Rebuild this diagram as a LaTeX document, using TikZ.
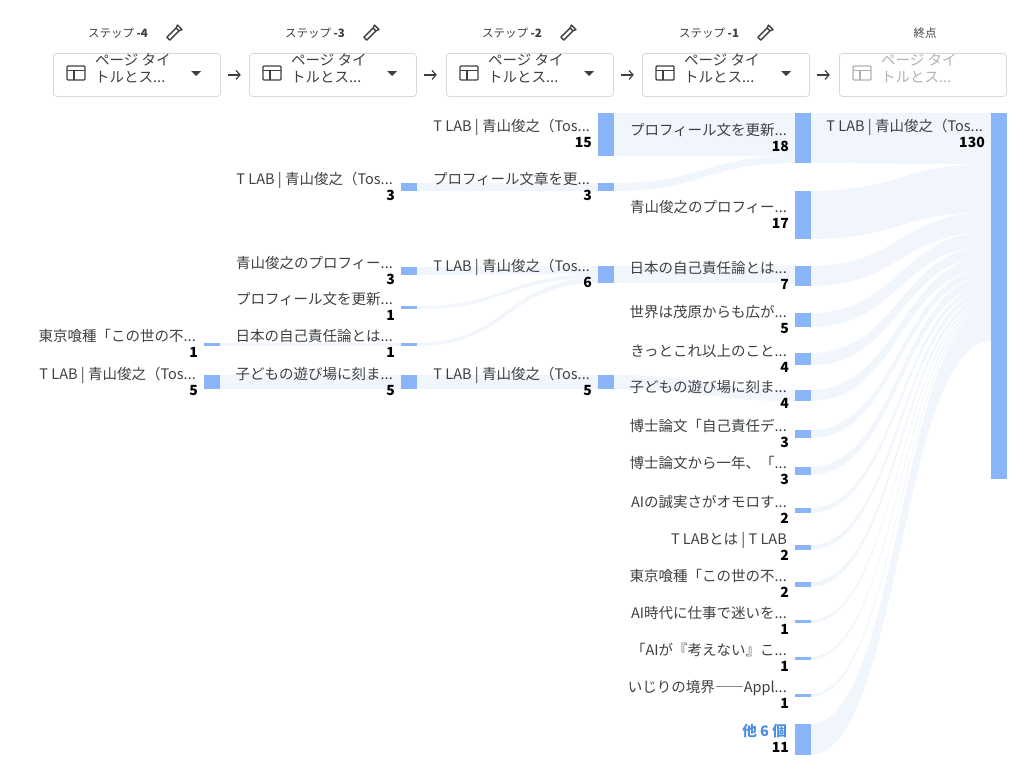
\documentclass[tikz,border=0pt]{standalone}
\usepackage{fontspec}
\setmainfont{Noto Sans CJK JP}
\usetikzlibrary{arrows.meta}
\definecolor{barc}{HTML}{8AB4F8}
\definecolor{flowc}{HTML}{DCE6F7}
\definecolor{txt}{HTML}{3C4043}
\definecolor{lnk}{HTML}{4A8FE0}
\tikzset{
  lab/.style={anchor=base east,font=\fontsize{14.5}{15}\selectfont,text=txt,inner sep=0pt},
  num/.style={anchor=base east,font=\fontsize{14}{15}\selectfont\bfseries,text=black,inner sep=0pt},
  flw/.style={fill=flowc,fill opacity=0.4},
  ddbox/.style={draw=black!15,rounded corners=3pt,line width=0.8pt},
  steplab/.style={font=\fontsize{11.5}{12}\selectfont,text=txt},
  arr/.style={-{Straight Barb[length=4pt,width=9pt]},line width=1.2pt,draw=txt}
}
% name, xleft, ytop, ybot, label, number
\newcommand\sbar[6]{%
  \fill[barc] (#2,#3) rectangle ({#2+16},#4);
  \coordinate (#1) at ({#2},{(#3+#4)/2});
  \node[lab] (#1l) at ({#2-8},{(#3+#4)/2-3}) {#5};
  \node[num] (#1n) at ({#2-6},{(#3+#4)/2+13}) {#6};}
% x1 a1 a2 x2 b1 b2
\newcommand\flow[6]{%
  \fill[flw] (#1,#2) .. controls ({(#1+#4)/2},#2) and ({(#1+#4)/2},#5) .. (#4,#5)
   -- (#4,#6) .. controls ({(#1+#4)/2},#6) and ({(#1+#4)/2},#3) .. (#1,#3) -- cycle;}
\newcommand\ddown[3]{% name, xleft, colour
  \node[ddbox,minimum width=167pt,minimum height=43pt,anchor=north west] (#1) at (#2,53) {};
  \draw[line width=1.4pt,draw=#3,rounded corners=1pt] ({#2+14},66) rectangle ({#2+32},80);
  \draw[line width=1.4pt,draw=#3] ({#2+14},70.5) -- ({#2+32},70.5) ({#2+21},70.5) -- ({#2+21},80);
  \node[anchor=north west,align=left,font=\fontsize{14.5}{17}\selectfont,text=#3,inner sep=0pt] (#1t) at ({#2+42},53) {ページ タイ\\トルとス...};}
\begin{document}
\begin{tikzpicture}[x=1pt,y=-1pt]
\useasboundingbox (0,0) rectangle (1024,776);
% header
\foreach \n/\x/\t in {a/118/-4,b/315/-3,c/512/-2,d/709/-1}{
  \node[steplab] (s\n) at (\x,33) {ステップ \textbf{\t}};
  \begin{scope}[shift={(\x+56,33)},rotate=45]
    \draw[line width=1.4pt,txt,line join=round] (-8,-2) -- (5,-2) -- (8,-3.2) -- (8,3.2) -- (5,2) -- (-8,2) -- cycle;
    \draw[line width=1.4pt,txt] (5,-2) -- (5,2);
  \end{scope}
}
\node[steplab] (se) at (925,33) {終点};
\ddown{d1}{53}{txt}
\ddown{d2}{249}{txt}
\ddown{d3}{446}{txt}
\ddown{d4}{642}{txt}
\ddown{d5}{839}{black!30}
\foreach \a in {d1,d2,d3,d4}{
  \draw[arr] (\a.east)++(7,0) -- ++(13,0);
}
\foreach \x in {196,392,589,786}{
  \fill[txt] (\x-5,71) -- (\x+5,71) -- (\x,76) -- cycle;
}
% flows col-4 -> col-3
\flow{220}{375}{389}{401}{375}{389}
\flow{220}{343}{346}{401}{343}{346}
% col-3 -> col-2
\flow{417}{183}{191}{598}{183}{191}
\flow{417}{267}{275}{598}{266}{274}
\flow{417}{306}{309}{598}{274}{278}
\flow{417}{343}{346}{598}{278}{283}
\flow{417}{375}{389}{598}{375}{389}
% col-2 -> col-1
\flow{614}{113}{156}{795}{113}{156}
\flow{614}{183}{191}{795}{156}{163}
\flow{614}{266}{283}{795}{266}{283}
\flow{614}{375}{389}{795}{390}{401}
% col-1 -> end
\foreach \a/\b/\c/\d in {113/163/113/164,191/239/164/212,266/286/212/232,313/327/232/246,353/365/246/257,390/401/257/268,430/438/268/276,467/475/276/285,508/513/285/290,545/550/290/296,582/587/296/301,620/623/301/304,657/660/304/307,694/697/307/310,724/755/310/341}{
  \flow{810}{\a}{\b}{991}{\c}{\d}
}
% bars
\sbar{a1}{204}{343}{346}{東京喰種「この世の不...}{1}
\sbar{a2}{204}{375}{389}{T LAB | 青山俊之（Tos...}{5}
\sbar{b1}{401}{183}{191}{T LAB | 青山俊之（Tos...}{3}
\sbar{b2}{401}{267}{275}{青山俊之のプロフィー...}{3}
\sbar{b3}{401}{306}{309}{プロフィール文を更新...}{1}
\sbar{b4}{401}{343}{346}{日本の自己責任論とは...}{1}
\sbar{b5}{401}{375}{389}{子どもの遊び場に刻ま...}{5}
\sbar{c1}{598}{113}{156}{T LAB | 青山俊之（Tos...}{15}
\sbar{c2}{598}{183}{191}{プロフィール文章を更...}{3}
\sbar{c3}{598}{266}{283}{T LAB | 青山俊之（Tos...}{6}
\sbar{c4}{598}{375}{389}{T LAB | 青山俊之（Tos...}{5}
\sbar{d1b}{795}{113}{163}{プロフィール文を更新...}{18}
\sbar{d2b}{795}{191}{239}{青山俊之のプロフィー...}{17}
\sbar{d3b}{795}{266}{286}{日本の自己責任論とは...}{7}
\sbar{d4b}{795}{313}{327}{世界は茂原からも広が...}{5}
\sbar{d5b}{795}{353}{365}{きっとこれ以上のこと...}{4}
\sbar{d6b}{795}{390}{401}{子どもの遊び場に刻ま...}{4}
\sbar{d7b}{795}{430}{438}{博士論文「自己責任デ...}{3}
\sbar{d8b}{795}{467}{475}{博士論文から一年、「...}{3}
\sbar{d9b}{795}{508}{513}{AIの誠実さがオモロす...}{2}
\sbar{d10b}{795}{545}{550}{T LABとは | T LAB}{2}
\sbar{d11b}{795}{582}{587}{東京喰種「この世の不...}{2}
\sbar{d12b}{795}{620}{623}{AI時代に仕事で迷いを...}{1}
\sbar{d13b}{795}{657}{660}{「AIが『考えない』こ...}{1}
\sbar{d14b}{795}{694}{697}{いじりの境界――Appl...}{1}
\sbar{d15b}{795}{724}{755}{\textcolor{lnk}{\bfseries 他 6 個}}{11}
% end bar
\fill[barc] (991,113) rectangle (1007,479);
\node[lab] (el) at (983,131) {T LAB | 青山俊之（Tos...};
\node[num] (en) at (985,147) {130};
\end{tikzpicture}
\end{document}
